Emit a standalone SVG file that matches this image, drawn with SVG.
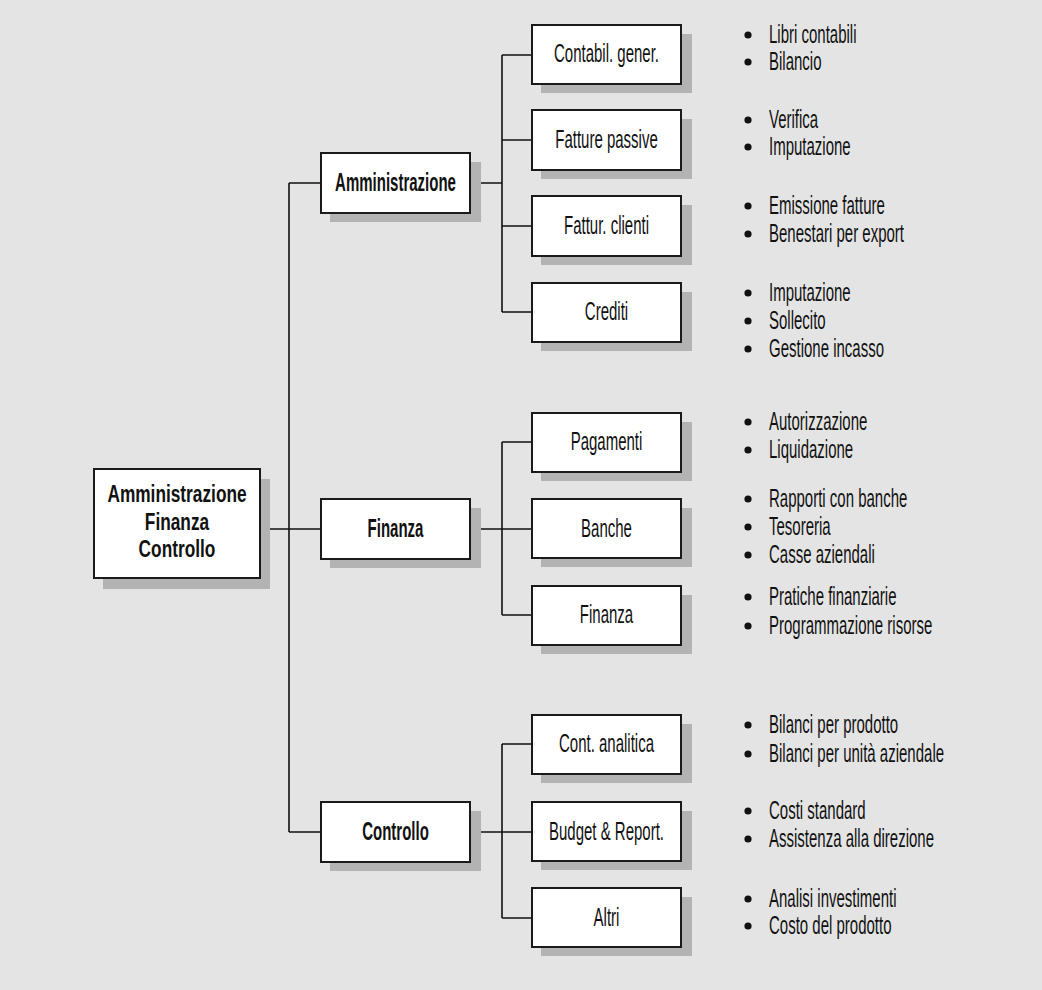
<svg xmlns="http://www.w3.org/2000/svg" width="1042" height="990" viewBox="0 0 1042 990">
  <style>
    .shadow { fill: #b3b3b3; }
    .box { fill: #ffffff; stroke: #1a1a1a; stroke-width: 2; }
    .wire { fill: none; stroke: #111111; stroke-width: 1.6; }
    .lbl { font-family: "Liberation Sans", Arial, sans-serif; font-size: 25px; fill: #111111; text-anchor: middle; }
    .bold { font-weight: bold; }
    .root { font-family: "Liberation Sans", Arial, sans-serif; font-size: 24px; font-weight: bold; fill: #111111; text-anchor: middle; }
    .item { font-family: "Liberation Sans", Arial, sans-serif; font-size: 25px; fill: #111111; }
    .dot { fill: #111111; }
  </style>

  <rect x="0" y="0" width="1042" height="990" fill="#e4e4e4"/>

  <!-- connectors -->
  <g id="connectors">
    <path class="wire" d="M260 529 H289 M289 183 V832 M289 183 H321 M289 529 H321 M289 832 H321"/>
    <path class="wire" d="M470 183 H502 M502 55 V312 M502 55 H532 M502 140 H532 M502 226 H532 M502 312 H532"/>
    <path class="wire" d="M470 529 H502 M502 442 V615 M502 442 H532 M502 529 H532 M502 615 H532"/>
    <path class="wire" d="M470 832 H502 M502 744 V918 M502 744 H532 M502 832 H532 M502 918 H532"/>
  </g>

  <!-- root -->
  <g id="node-afc">
    <rect class="shadow" x="103" y="479" width="167" height="110"/>
    <rect class="box" x="94" y="469" width="166" height="109"/>
    <text class="root" transform="translate(177 502) scale(0.72 1)">Amministrazione</text>
    <text class="root" transform="translate(177 530) scale(0.72 1)">Finanza</text>
    <text class="root" transform="translate(177 557) scale(0.72 1)">Controllo</text>
  </g>

  <!-- second level -->
  <g id="node-amministrazione">
    <rect class="shadow" x="330" y="162" width="151" height="60"/>
    <rect class="box" x="321" y="153" width="149" height="60"/>
    <text class="lbl bold" transform="translate(395.5 190.5) scale(0.6 1)">Amministrazione</text>
  </g>
  <g id="node-finanza">
    <rect class="shadow" x="330" y="508" width="151" height="60"/>
    <rect class="box" x="321" y="499" width="149" height="60"/>
    <text class="lbl bold" transform="translate(395.5 536.5) scale(0.6 1)">Finanza</text>
  </g>
  <g id="node-controllo">
    <rect class="shadow" x="330" y="811" width="151" height="60"/>
    <rect class="box" x="321" y="802" width="149" height="60"/>
    <text class="lbl bold" transform="translate(395.5 839.5) scale(0.6 1)">Controllo</text>
  </g>

  <!-- third level with task lists -->
  <g id="node-contabil">
    <rect class="shadow" x="541" y="34" width="151" height="59"/>
    <rect class="box" x="532" y="25" width="149" height="59"/>
    <text class="lbl" transform="translate(606.5 62) scale(0.6 1)">Contabil. gener.</text>
    <circle class="dot" cx="748" cy="35" r="3.6"/>
    <text class="item" transform="translate(769 43) scale(0.6 1)">Libri contabili</text>
    <circle class="dot" cx="748" cy="62" r="3.6"/>
    <text class="item" transform="translate(769 70) scale(0.6 1)">Bilancio</text>
  </g>
  <g id="node-fatture-passive">
    <rect class="shadow" x="541" y="119" width="151" height="60"/>
    <rect class="box" x="532" y="110" width="149" height="60"/>
    <text class="lbl" transform="translate(606.5 148) scale(0.6 1)">Fatture passive</text>
    <circle class="dot" cx="748" cy="120" r="3.6"/>
    <text class="item" transform="translate(769 128) scale(0.6 1)">Verifica</text>
    <circle class="dot" cx="748" cy="147" r="3.6"/>
    <text class="item" transform="translate(769 155) scale(0.6 1)">Imputazione</text>
  </g>
  <g id="node-fattur-clienti">
    <rect class="shadow" x="541" y="205" width="151" height="60"/>
    <rect class="box" x="532" y="196" width="149" height="60"/>
    <text class="lbl" transform="translate(606.5 234) scale(0.6 1)">Fattur. clienti</text>
    <circle class="dot" cx="748" cy="206" r="3.6"/>
    <text class="item" transform="translate(769 214) scale(0.6 1)">Emissione fatture</text>
    <circle class="dot" cx="748" cy="234" r="3.6"/>
    <text class="item" transform="translate(769 242) scale(0.6 1)">Benestari per export</text>
  </g>
  <g id="node-crediti">
    <rect class="shadow" x="541" y="292" width="151" height="59"/>
    <rect class="box" x="532" y="283" width="149" height="59"/>
    <text class="lbl" transform="translate(606.5 320) scale(0.6 1)">Crediti</text>
    <circle class="dot" cx="748" cy="293" r="3.6"/>
    <text class="item" transform="translate(769 301) scale(0.6 1)">Imputazione</text>
    <circle class="dot" cx="748" cy="321" r="3.6"/>
    <text class="item" transform="translate(769 329) scale(0.6 1)">Sollecito</text>
    <circle class="dot" cx="748" cy="349" r="3.6"/>
    <text class="item" transform="translate(769 357) scale(0.6 1)">Gestione incasso</text>
  </g>

  <g id="node-pagamenti">
    <rect class="shadow" x="541" y="422" width="151" height="59"/>
    <rect class="box" x="532" y="413" width="149" height="59"/>
    <text class="lbl" transform="translate(606.5 450) scale(0.6 1)">Pagamenti</text>
    <circle class="dot" cx="748" cy="422" r="3.6"/>
    <text class="item" transform="translate(769 430) scale(0.6 1)">Autorizzazione</text>
    <circle class="dot" cx="748" cy="450" r="3.6"/>
    <text class="item" transform="translate(769 458) scale(0.6 1)">Liquidazione</text>
  </g>
  <g id="node-banche">
    <rect class="shadow" x="541" y="508" width="151" height="59"/>
    <rect class="box" x="532" y="499" width="149" height="59"/>
    <text class="lbl" transform="translate(606.5 537) scale(0.6 1)">Banche</text>
    <circle class="dot" cx="748" cy="499" r="3.6"/>
    <text class="item" transform="translate(769 507) scale(0.6 1)">Rapporti con banche</text>
    <circle class="dot" cx="748" cy="527" r="3.6"/>
    <text class="item" transform="translate(769 535) scale(0.6 1)">Tesoreria</text>
    <circle class="dot" cx="748" cy="555" r="3.6"/>
    <text class="item" transform="translate(769 563) scale(0.6 1)">Casse aziendali</text>
  </g>
  <g id="node-finanza-ops">
    <rect class="shadow" x="541" y="595" width="151" height="59"/>
    <rect class="box" x="532" y="586" width="149" height="59"/>
    <text class="lbl" transform="translate(606.5 623) scale(0.6 1)">Finanza</text>
    <circle class="dot" cx="748" cy="597" r="3.6"/>
    <text class="item" transform="translate(769 605) scale(0.6 1)">Pratiche finanziarie</text>
    <circle class="dot" cx="748" cy="626" r="3.6"/>
    <text class="item" transform="translate(769 634) scale(0.6 1)">Programmazione risorse</text>
  </g>

  <g id="node-cont-analitica">
    <rect class="shadow" x="541" y="724" width="151" height="59"/>
    <rect class="box" x="532" y="715" width="149" height="59"/>
    <text class="lbl" transform="translate(606.5 752) scale(0.6 1)">Cont. analitica</text>
    <circle class="dot" cx="748" cy="725" r="3.6"/>
    <text class="item" transform="translate(769 733) scale(0.6 1)">Bilanci per prodotto</text>
    <circle class="dot" cx="748" cy="754" r="3.6"/>
    <text class="item" transform="translate(769 762) scale(0.6 1)">Bilanci per unità aziendale</text>
  </g>
  <g id="node-budget">
    <rect class="shadow" x="541" y="811" width="151" height="59"/>
    <rect class="box" x="532" y="802" width="149" height="59"/>
    <text class="lbl" transform="translate(606.5 840) scale(0.6 1)">Budget &amp; Report.</text>
    <circle class="dot" cx="748" cy="811" r="3.6"/>
    <text class="item" transform="translate(769 819) scale(0.6 1)">Costi standard</text>
    <circle class="dot" cx="748" cy="839" r="3.6"/>
    <text class="item" transform="translate(769 847) scale(0.6 1)">Assistenza alla direzione</text>
  </g>
  <g id="node-altri">
    <rect class="shadow" x="541" y="897" width="151" height="59"/>
    <rect class="box" x="532" y="888" width="149" height="59"/>
    <text class="lbl" transform="translate(606.5 926) scale(0.6 1)">Altri</text>
    <circle class="dot" cx="748" cy="899" r="3.6"/>
    <text class="item" transform="translate(769 907) scale(0.6 1)">Analisi investimenti</text>
    <circle class="dot" cx="748" cy="926" r="3.6"/>
    <text class="item" transform="translate(769 934) scale(0.6 1)">Costo del prodotto</text>
  </g>
</svg>
